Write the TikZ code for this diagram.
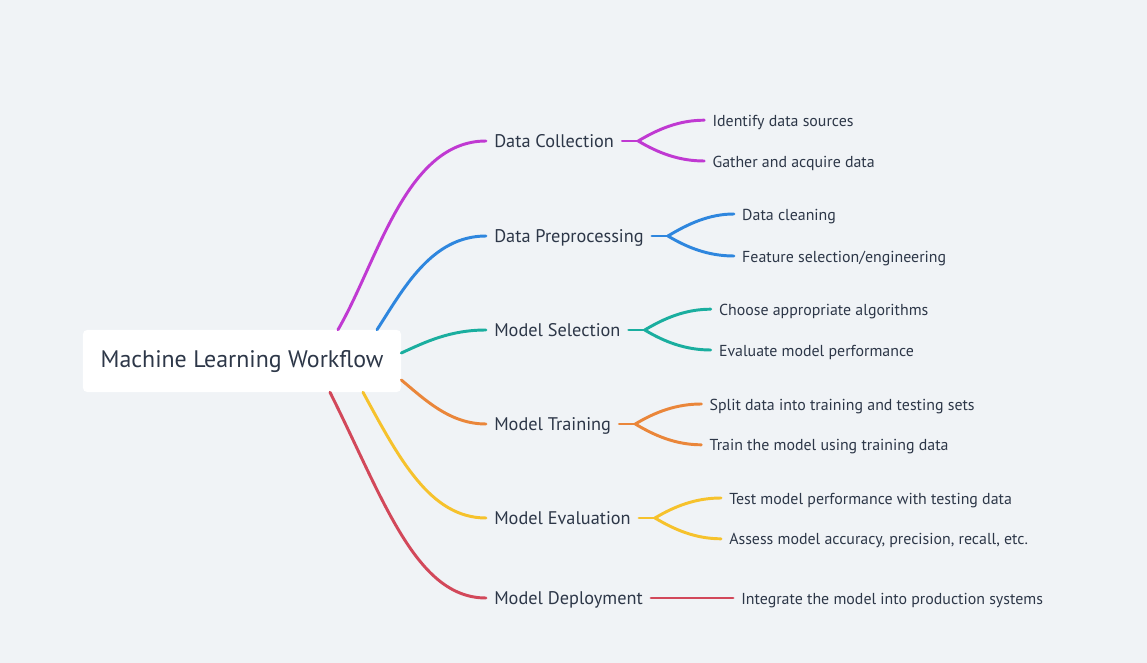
\documentclass[tikz,border=0pt]{standalone}
\usepackage{fontspec}
\setmainfont{PT Sans}
\usetikzlibrary{calc,positioning}

\definecolor{bgcol}{RGB}{240,243,246}
\definecolor{ink}{RGB}{45,55,72}
\definecolor{colDC}{RGB}{192,57,210}
\definecolor{colDP}{RGB}{46,134,222}
\definecolor{colMS}{RGB}{26,174,159}
\definecolor{colMT}{RGB}{234,134,58}
\definecolor{colME}{RGB}{246,194,44}
\definecolor{colMD}{RGB}{210,72,90}

\begin{document}
\begin{tikzpicture}[x=0.025cm,y=-0.025cm,
    root/.style={fill=white,rounded corners=3pt,minimum width=7.95cm,minimum height=1.55cm,
      inner sep=0pt,text height=1.95ex,text depth=0pt,text=ink,font=\fontsize{17}{20}\selectfont},
    topic/.style={anchor=west,inner xsep=0.2cm,inner ysep=0pt,text height=1.8ex,text depth=0pt,
      text=ink,font=\fontsize{13}{16}\selectfont},
    leaf/.style={inner xsep=0.2cm,inner ysep=0pt,text height=1.75ex,text depth=0pt,
      text=ink,font=\fontsize{11.3}{14}\selectfont},
    link/.style={line width=2.1pt,line cap=round}]
  \fill[bgcol] (0,0) rectangle (1147,663);
  \node[root] (root) at (242,361) {Machine Learning Workflow};
  % main topics
  \node[topic] (dc) at (486,141) {Data Collection};
  \node[topic] (dp) at (486,236) {Data Preprocessing};
  \node[topic] (ms) at (486,330) {Model Selection};
  \node[topic] (mt) at (486,424) {Model Training};
  \node[topic] (me) at (486,518) {Model Evaluation};
  \node[topic] (md) at (486,598) {Model Deployment};
  % details
  \node[leaf,right=2.05cm of dc,yshift=0.52cm] (dc1) {Identify data sources};
  \node[leaf,right=2.05cm of dc,yshift=-0.5cm] (dc2) {Gather and acquire data};
  \node[leaf,right=2.05cm of dp,yshift=0.55cm] (dp1) {Data cleaning};
  \node[leaf,right=2.05cm of dp,yshift=-0.5cm] (dp2) {Feature selection/engineering};
  \node[leaf,right=2.05cm of ms,yshift=0.52cm] (ms1) {Choose appropriate algorithms};
  \node[leaf,right=2.05cm of ms,yshift=-0.5cm] (ms2) {Evaluate model performance};
  \node[leaf,right=2.05cm of mt,yshift=0.5cm] (mt1) {Split data into training and testing sets};
  \node[leaf,right=2.05cm of mt,yshift=-0.52cm] (mt2) {Train the model using training data};
  \node[leaf,right=2.05cm of me,yshift=0.5cm] (me1) {Test model performance with testing data};
  \node[leaf,right=2.05cm of me,yshift=-0.52cm] (me2) {Assess model accuracy, precision, recall, etc.};
  \node[leaf,right=2.05cm of md] (md1) {Integrate the model into production systems};
  % links from the root
  \draw[link,colDC] ($(root.north)+(96,0)$) .. controls +(40,-69) and +(-80,0) .. (dc.west);
  \draw[link,colDP] ($(root.north)+(135,0)$) .. controls +(26,-40) and +(-55,0) .. (dp.west);
  \draw[link,colMS] ($(root.east)+(0,-8)$) .. controls +(24,-11) and +(-36,0) .. (ms.west);
  \draw[link,colMT] ($(root.east)+(0,19)$) .. controls +(24,20) and +(-36,0) .. (mt.west);
  \draw[link,colME] ($(root.south)+(121,0)$) .. controls +(36,66) and +(-56,0) .. (me.west);
  \draw[link,colMD] ($(root.south)+(88,0)$) .. controls +(54,108) and +(-70,0) .. (md.west);
  % forks to the details
  \foreach \t/\c in {dc/colDC,dp/colDP,ms/colMS,mt/colMT,me/colME} {
    \draw[link,\c] (\t.east) -- ++(16,0) coordinate (\t f);
    \draw[link,\c] (\t f) .. controls +(20,-12) and +(-25,0) .. (\t1.west);
    \draw[link,\c] (\t f) .. controls +(20,12) and +(-25,0) .. (\t2.west);
  }
  \draw[link,colMD] (md.east) -- (md1.west);
\end{tikzpicture}
\end{document}
